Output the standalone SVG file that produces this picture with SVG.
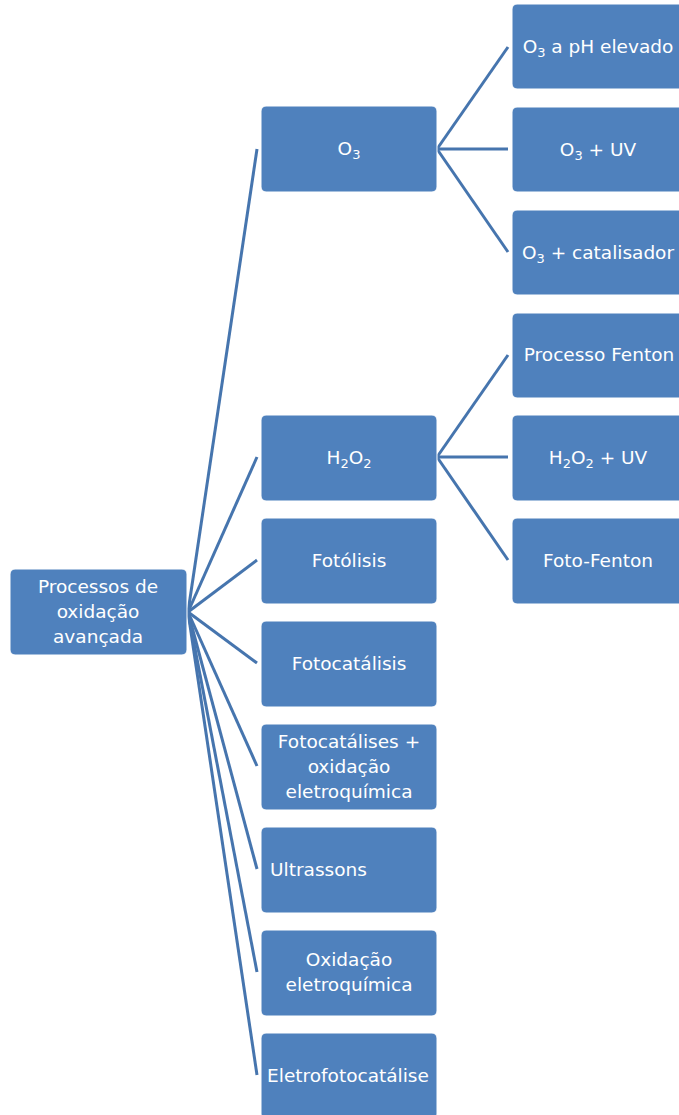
<svg xmlns="http://www.w3.org/2000/svg" width="679" height="1115" viewBox="0 0 679 1115">
  <style>
    .box { fill: #4f81bd; stroke: #ffffff; stroke-width: 1; }
    .lbl { fill: #ffffff; font-family: "DejaVu Sans", "Liberation Sans", sans-serif; font-size: 18.5px; text-anchor: middle; }
    .sub { font-size: 13px; }
    .link { stroke: #4675ae; stroke-width: 3; fill: none; stroke-linecap: butt; }
  </style>
  <rect width="679" height="1115" fill="#ffffff"/>

  <!-- connectors -->
  <g id="connectors">
    <!-- root fan-out -->
    <line class="link" x1="188" y1="612" x2="257" y2="149"/>
    <line class="link" x1="188" y1="612" x2="257" y2="457"/>
    <line class="link" x1="188" y1="612" x2="257" y2="560"/>
    <line class="link" x1="188" y1="612" x2="257" y2="663"/>
    <line class="link" x1="188" y1="612" x2="257" y2="766"/>
    <line class="link" x1="188" y1="612" x2="257" y2="869"/>
    <line class="link" x1="188" y1="612" x2="257" y2="972"/>
    <line class="link" x1="188" y1="612" x2="257" y2="1075"/>
    <!-- O3 branch -->
    <line class="link" x1="437" y1="149" x2="508" y2="47"/>
    <line class="link" x1="437" y1="149" x2="508" y2="149"/>
    <line class="link" x1="437" y1="149" x2="508" y2="252"/>
    <!-- H2O2 branch -->
    <line class="link" x1="437" y1="457" x2="508" y2="355"/>
    <line class="link" x1="437" y1="457" x2="508" y2="457"/>
    <line class="link" x1="437" y1="457" x2="508" y2="560"/>
  </g>

  <!-- root -->
  <g id="root">
    <rect class="box" x="10" y="569" width="177" height="86" rx="5"/>
    <text class="lbl" x="98" y="593">Processos de</text>
    <text class="lbl" x="98" y="618">oxidação</text>
    <text class="lbl" x="98" y="643">avançada</text>
  </g>

  <!-- second level -->
  <g id="o3">
    <rect class="box" x="261" y="106" width="176" height="86" rx="5"/>
    <text class="lbl" x="349" y="155">O<tspan class="sub" dy="4">3</tspan></text>
  </g>
  <g id="h2o2">
    <rect class="box" x="261" y="415" width="176" height="86" rx="5"/>
    <text class="lbl" x="349" y="464">H<tspan class="sub" dy="4">2</tspan><tspan dy="-4">O</tspan><tspan class="sub" dy="4">2</tspan></text>
  </g>
  <g id="fotolisis">
    <rect class="box" x="261" y="518" width="176" height="86" rx="5"/>
    <text class="lbl" x="349" y="567">Fotólisis</text>
  </g>
  <g id="fotocatalisis">
    <rect class="box" x="261" y="621" width="176" height="86" rx="5"/>
    <text class="lbl" x="349" y="670">Fotocatálisis</text>
  </g>
  <g id="fotocatalises-oxidacao">
    <rect class="box" x="261" y="724" width="176" height="86" rx="5"/>
    <text class="lbl" x="349" y="748">Fotocatálises +</text>
    <text class="lbl" x="349" y="773">oxidação</text>
    <text class="lbl" x="349" y="798">eletroquímica</text>
  </g>
  <g id="ultrassons">
    <rect class="box" x="261" y="827" width="176" height="86" rx="5"/>
    <text class="lbl" x="270" y="876" style="text-anchor:start">Ultrassons</text>
  </g>
  <g id="oxidacao-eletroquimica">
    <rect class="box" x="261" y="930" width="176" height="86" rx="5"/>
    <text class="lbl" x="349" y="966">Oxidação</text>
    <text class="lbl" x="349" y="991">eletroquímica</text>
  </g>
  <g id="eletrofotocatalise">
    <rect class="box" x="261" y="1033" width="176" height="86" rx="5"/>
    <text class="lbl" x="348" y="1082">Eletrofotocatálise</text>
  </g>

  <!-- third level -->
  <g id="o3-ph">
    <rect class="box" x="512" y="4" width="176" height="85" rx="5"/>
    <text class="lbl" x="598" y="53">O<tspan class="sub" dy="4">3</tspan><tspan dy="-4"> a pH elevado</tspan></text>
  </g>
  <g id="o3-uv">
    <rect class="box" x="512" y="107" width="176" height="85" rx="5"/>
    <text class="lbl" x="598" y="156">O<tspan class="sub" dy="4">3</tspan><tspan dy="-4"> + UV</tspan></text>
  </g>
  <g id="o3-catalisador">
    <rect class="box" x="512" y="210" width="176" height="85" rx="5"/>
    <text class="lbl" x="598" y="259">O<tspan class="sub" dy="4">3</tspan><tspan dy="-4"> + catalisador</tspan></text>
  </g>
  <g id="fenton">
    <rect class="box" x="512" y="313" width="176" height="85" rx="5"/>
    <text class="lbl" x="599" y="361">Processo Fenton</text>
  </g>
  <g id="h2o2-uv">
    <rect class="box" x="512" y="415" width="176" height="86" rx="5"/>
    <text class="lbl" x="598" y="464">H<tspan class="sub" dy="4">2</tspan><tspan dy="-4">O</tspan><tspan class="sub" dy="4">2</tspan><tspan dy="-4"> + UV</tspan></text>
  </g>
  <g id="foto-fenton">
    <rect class="box" x="512" y="518" width="176" height="86" rx="5"/>
    <text class="lbl" x="598" y="567">Foto-Fenton</text>
  </g>
</svg>
